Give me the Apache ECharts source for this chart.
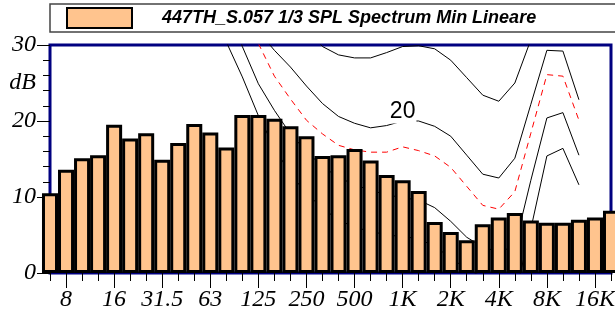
<!DOCTYPE html>
<html><head><meta charset="utf-8">
<script src="https://cdn.jsdelivr.net/npm/echarts@6/dist/echarts.min.js"></script>
<style>html,body{margin:0;padding:0;background:#fff}#c{width:615px;height:320px}</style>
</head><body><div id="c"></div>
<script>
const N = null;
// 1/3 octave band centres
const bands = ['6.3','8','10','12.5','16','20','25','31.5','40','50','63','80','100','125','160','200','250','315','400','500','630','800','1K','1.25K','1.6K','2K','2.5K','3.15K','4K','5K','6.3K','8K','10K','12.5K','16K','20K'];
const tickLabels = ['8','16','31.5','63','125','250','500','1K','2K','4K','8K','16K'];
const seriesName = '447TH_S.057 1/3 SPL Spectrum Min Lineare';
// measured spectrum (dB)
const spl = [10.5,13.6,15.1,15.5,19.5,17.7,18.4,14.9,17.1,19.6,18.5,16.5,20.8,20.8,20.3,19.3,18.0,15.4,15.5,16.3,14.8,12.9,12.2,10.8,6.7,5.4,4.3,6.4,7.3,7.9,6.9,6.6,6.6,7.0,7.3,8.2];
// reference curves (dB)
const curve30 = [N,N,N,N,N,N,N,N,N,N,N,N,N,N,N,N,32.0,29.8,28.7,28.3,28.3,29.0,29.8,29.9,29.5,28.0,25.7,23.4,22.6,25.0,30.7,38,38,33,N,N];
const curve20 = [N,N,N,N,N,N,N,N,N,N,N,N,N,31.8,29.3,27.1,24.6,22.3,20.6,19.7,19.1,19.4,20.0,20.0,19.3,18.0,15.5,13.0,12.5,15.1,22.2,29.3,29.2,22.8,N,N];
const curveRed = [N,N,N,N,N,N,N,N,N,N,N,N,N,30.2,25.9,22.9,20.1,18.3,16.8,16.2,15.9,15.9,16.6,16.1,15.4,13.9,11.4,8.9,8.4,10.7,18.4,26.1,25.9,20.1,N,N];
const curve10 = [N,N,N,N,N,N,N,N,N,N,N,36,29.8,24.9,21.4,18.3,16.0,14.0,12.6,11.6,10.9,10.3,9.9,9.6,8.6,6.8,4.7,3.4,2.8,3.5,12.2,20.4,21.1,15.5,N,N];
const curve0 = [N,N,N,N,N,N,N,N,N,N,N,30.4,25.8,20.7,16.5,13.0,10.5,8.5,7.0,6.0,5.5,5.0,4.8,4.5,3.5,2.0,0.5,-0.5,-1.0,-3.0,5.8,15.4,16.4,11.6,N,N];
const curveLabelIndex = 22; // 1K

const serif = 'Liberation Serif';
const isMajor = (i, v) => tickLabels.indexOf(v) >= 0;
const lblStyle = {fontFamily: serif, fontStyle: 'italic', fontSize: 24, color: '#000'};

function lineSeries(name, data, color, type, labelText) {
  return {
    name, type: 'line', data: data.map((v, i) => (labelText && i === curveLabelIndex) ? {
      value: v,
      symbol: 'circle', symbolSize: 1,
      itemStyle: {color: 'rgba(0,0,0,0)', opacity: 0},
      label: {show: true, formatter: labelText, position: 'top', distance: -3, opacity: 1,
        fontFamily: 'Liberation Sans', fontSize: 23, color: '#000',
        backgroundColor: '#fff', padding: [0, 1, 0, 1]}
    } : v),
    xAxisIndex: 0, yAxisIndex: 0, z: 1,
    symbol: 'none', showSymbol: true, showAllSymbol: true, smooth: false,
    lineStyle: {color, width: 1, type},
    emphasis: {disabled: true}, silent: true, animation: false
  };
}

const chart = echarts.init(document.getElementById('c'));
chart.setOption({
  animation: false,
  backgroundColor: '#fff',
  legend: {
    data: [{name: seriesName, itemStyle: {borderWidth: 2, borderColor: '#000'}}],
    left: 50, top: 4, orient: 'horizontal',
    icon: 'rect', itemWidth: 65, itemHeight: 20,
    padding: [3, 84, 3, 16],
    borderColor: '#444', borderWidth: 1.5,
    selectedMode: false,
    textStyle: {fontFamily: 'Liberation Sans', fontWeight: 'bold', fontStyle: 'italic', fontSize: 18, color: '#000', padding: [0, 0, 0, 25]}
  },
  grid: {left: 50, right: 4, top: 45, bottom: 47, show: true, borderColor: '#000080', borderWidth: 3, backgroundColor: 'transparent', containLabel: false, outerBoundsMode: 'none'},
  xAxis: [
    {type: 'category', data: bands, boundaryGap: false, position: 'bottom',
     axisLine: {show: false}, splitLine: {show: false},
     axisTick: {show: true, interval: 0, length: 8, lineStyle: {color: '#000', width: 1}},
     axisLabel: {show: false}},
    {type: 'category', data: bands, boundaryGap: false, position: 'bottom',
     axisLine: {show: false}, splitLine: {show: false},
     axisTick: {show: true, interval: isMajor, length: 15, lineStyle: {color: '#000', width: 1}},
     axisLabel: Object.assign({show: true, interval: isMajor, margin: 15, hideOverlap: false}, lblStyle)}
  ],
  yAxis: [
    {type: 'value', min: 0, max: 30, interval: 10, position: 'left',
     axisLine: {show: false}, splitLine: {show: false},
     axisTick: {show: true, length: 13, lineStyle: {color: '#000', width: 1}},
     minorTick: {show: true, splitNumber: 5, length: 7, lineStyle: {color: '#000', width: 1}},
     axisLabel: Object.assign({margin: 14}, lblStyle)},
    {type: 'value', min: 0, max: 30, interval: 5, position: 'left',
     axisLine: {show: false}, splitLine: {show: false}, axisTick: {show: false},
     axisLabel: Object.assign({margin: 14, formatter: v => v === 25 ? 'dB' : ''}, lblStyle)}
  ],
  series: [
    lineSeries('c0', curve0, '#000', 'solid'),
    lineSeries('c10', curve10, '#000', 'solid'),
    lineSeries('cred', curveRed, '#ff0000', [6, 5]),
    lineSeries('c20', curve20, '#000', 'solid', '20'),
    lineSeries('c30', curve30, '#000', 'solid'),
    {name: seriesName, type: 'bar', data: spl, xAxisIndex: 0, yAxisIndex: 0, z: 3,
     barCategoryGap: '0%', barGap: '0%', clip: true,
     itemStyle: {color: '#FFC48E', borderColor: '#000', borderWidth: 3},
     emphasis: {disabled: true}, silent: true}
  ]
});
</script>
</body></html>
